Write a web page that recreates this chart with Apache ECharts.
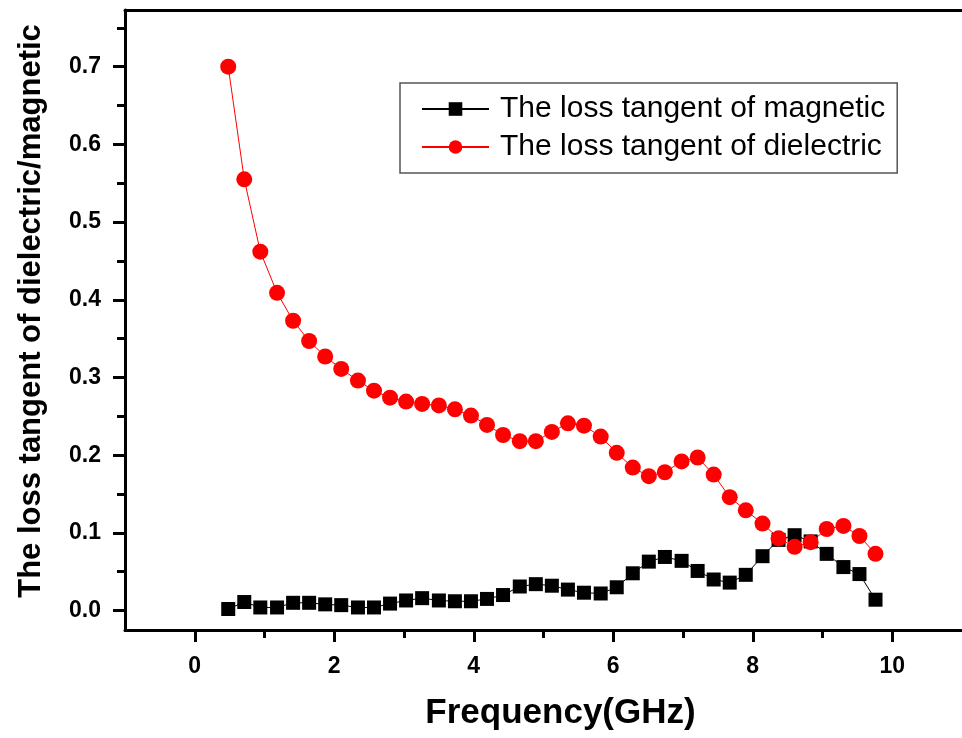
<!DOCTYPE html>
<html>
<head>
<meta charset="utf-8">
<script src="https://cdn.jsdelivr.net/npm/echarts@6/dist/echarts.min.js"></script>
<style>
html,body{margin:0;padding:0;background:#fff;}
#chart{width:962px;height:738px;}
</style>
</head>
<body>
<div id="chart"></div>
<script>
const frequency = [0.48, 0.71, 0.94, 1.18, 1.41, 1.64, 1.87, 2.10, 2.34, 2.57, 2.80, 3.03, 3.26, 3.50, 3.73, 3.96, 4.19, 4.42, 4.66, 4.89, 5.12, 5.35, 5.58, 5.82, 6.05, 6.28, 6.51, 6.74, 6.98, 7.21, 7.44, 7.67, 7.90, 8.14, 8.37, 8.60, 8.83, 9.06, 9.30, 9.53, 9.76];
const magnetic = [0.002, 0.011, 0.004, 0.004, 0.010, 0.010, 0.008, 0.007, 0.004, 0.004, 0.009, 0.013, 0.016, 0.013, 0.012, 0.012, 0.015, 0.020, 0.031, 0.034, 0.032, 0.027, 0.023, 0.022, 0.030, 0.048, 0.063, 0.069, 0.064, 0.051, 0.040, 0.036, 0.046, 0.070, 0.091, 0.097, 0.089, 0.073, 0.056, 0.047, 0.014];
const dielectric = [0.700, 0.555, 0.462, 0.409, 0.373, 0.347, 0.327, 0.311, 0.296, 0.283, 0.274, 0.269, 0.266, 0.264, 0.259, 0.251, 0.239, 0.226, 0.218, 0.218, 0.230, 0.241, 0.238, 0.224, 0.203, 0.184, 0.173, 0.178, 0.192, 0.197, 0.175, 0.146, 0.129, 0.112, 0.093, 0.082, 0.088, 0.105, 0.109, 0.096, 0.073];
const xTickLabels = [0, 2, 4, 6, 8, 10];
const xMinorTicks = [1, 3, 5, 7, 9];
const yTickLabels = [0.0, 0.1, 0.2, 0.3, 0.4, 0.5, 0.6, 0.7];
const yMinorTicks = [0.05, 0.15, 0.25, 0.35, 0.45, 0.55, 0.65, 0.75];
const seriesNames = ['The loss tangent of magnetic', 'The loss tangent of dielectric'];

const FONT = '"Liberation Sans", Arial, sans-serif';
const X_MIN = -1, X_MAX = 11, Y_MIN = -0.025, Y_MAX = 0.773;

const chart = echarts.init(document.getElementById('chart'), null, {renderer: 'canvas'});
const zip = (xs, ys) => xs.map((x, i) => [x, ys[i]]);

function tickAxis(range, position, values, len) {
  return {
    type: 'value', min: range[0], max: range[1], position: position,
    axisLine: {show: false, onZero: false},
    axisTick: {show: true, customValues: values, length: len, lineStyle: {color: '#000', width: 3}},
    axisLabel: {show: false},
    splitLine: {show: false}
  };
}

const option = {
  backgroundColor: '#ffffff',
  animation: false,
  grid: {left: 125, top: 10, width: 845, height: 620, containLabel: false},
  legend: {
    orient: 'vertical',
    left: 400, top: 83,
    padding: [11, 12, 11, 21],
    itemGap: 8,
    itemWidth: 67,
    itemHeight: 17,
    borderColor: '#555555',
    borderWidth: 1.5,
    borderRadius: 0,
    textStyle: {fontFamily: FONT, fontSize: 30, color: '#000', padding: [0, 0, 0, 6]},
    data: seriesNames
  },
  xAxis: [
    {
      type: 'value', min: X_MIN, max: X_MAX, position: 'bottom',
      axisLine: {show: true, onZero: false, lineStyle: {color: '#000', width: 3}},
      axisTick: {show: false},
      axisLabel: {show: true, customValues: xTickLabels, margin: 25, fontFamily: FONT, fontWeight: 'bold', fontSize: 23, color: '#000'},
      splitLine: {show: false},
      name: 'Frequency(GHz)', nameLocation: 'middle', nameGap: 66,
      nameTextStyle: {fontFamily: FONT, fontWeight: 'bold', fontSize: 35, color: '#000', padding: [0, 0, 0, 34]}
    },
    tickAxis([X_MIN, X_MAX], 'bottom', xTickLabels, 12),
    tickAxis([X_MIN, X_MAX], 'bottom', xMinorTicks, 8),
    {
      type: 'value', min: X_MIN, max: X_MAX, position: 'top',
      axisLine: {show: true, onZero: false, lineStyle: {color: '#000', width: 3}},
      axisTick: {show: false}, axisLabel: {show: false}, splitLine: {show: false}
    }
  ],
  yAxis: [
    {
      type: 'value', min: Y_MIN, max: Y_MAX, position: 'left',
      axisLine: {show: true, onZero: false, lineStyle: {color: '#000', width: 3}},
      axisTick: {show: false},
      axisLabel: {show: true, customValues: yTickLabels, margin: 24, formatter: v => Number(v).toFixed(1),
        fontFamily: FONT, fontWeight: 'bold', fontSize: 23, color: '#000'},
      splitLine: {show: false},
      name: 'The loss tangent of dielectric/magnetic', nameLocation: 'middle', nameGap: 78, nameRotate: 90,
      nameTextStyle: {fontFamily: FONT, fontWeight: 'bold', fontSize: 31, color: '#000', padding: [0, 0, 0, 18]}
    },
    tickAxis([Y_MIN, Y_MAX], 'left', yTickLabels, 12),
    tickAxis([Y_MIN, Y_MAX], 'left', yMinorTicks, 8)
  ],
  series: [
    {
      name: seriesNames[0], type: 'line', xAxisIndex: 0, yAxisIndex: 0,
      data: zip(frequency, magnetic),
      symbol: 'rect', symbolSize: 14,
      lineStyle: {color: '#000', width: 1},
      itemStyle: {color: '#000'}
    },
    {
      name: seriesNames[1], type: 'line', xAxisIndex: 0, yAxisIndex: 0,
      data: zip(frequency, dielectric),
      symbol: 'circle', symbolSize: 16,
      lineStyle: {color: '#ff0000', width: 1},
      itemStyle: {color: '#ff0000'}
    }
  ]
};
chart.setOption(option);
</script>
</body>
</html>
